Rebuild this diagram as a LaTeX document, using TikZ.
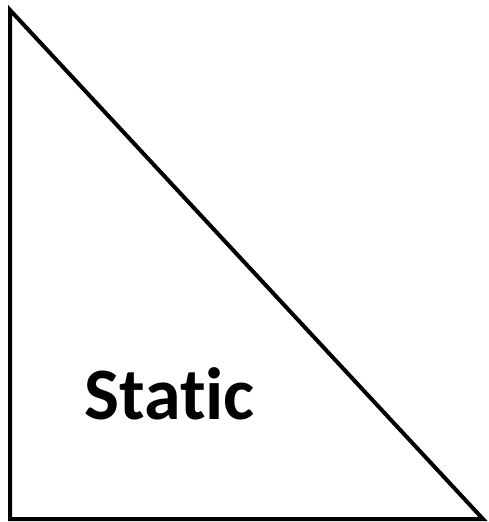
\documentclass[tikz,border=0pt]{standalone}
\usepackage{fontspec}
\setmainfont{Carlito}[Ligatures=NoCommon]
\usetikzlibrary{positioning}

\begin{document}
\begin{tikzpicture}[
    x=1pt, y=-1pt,
    edge/.style={draw=black, line width=4pt},
    label/.style={font=\fontsize{74}{80}\selectfont\bfseries, inner sep=0pt}
  ]
    \useasboundingbox (0,0) rectangle (489,522);

    %% Corners of the triangle
    \coordinate (apex)  at (10,10);
    \coordinate (left)  at (10,519);
    \coordinate (right) at (483,519);

    %% Triangle
    \draw[edge] (apex) -- (left) -- (right) -- cycle;

    %% Label
    \node[label, anchor=base west] (static) at (84,419) {Static};
  \end{tikzpicture}
\end{document}
